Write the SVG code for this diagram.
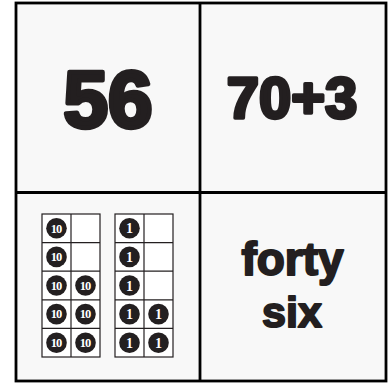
<svg xmlns="http://www.w3.org/2000/svg" width="392" height="383" viewBox="0 0 392 383">
<style>
.big{font-family:"Liberation Sans",Arial,sans-serif;font-weight:bold;fill:#231f20;stroke:#231f20;stroke-linejoin:round;text-anchor:middle}
.fr{fill:#fff;stroke:#231f20;stroke-width:1.2}
.dot{fill:#231f20}
.t10{font-family:"Liberation Serif",serif;font-weight:bold;font-size:12.5px;fill:#fff;text-anchor:middle;letter-spacing:-0.8px}
.t1{font-family:"Liberation Serif",serif;font-weight:bold;font-size:14px;fill:#fff;text-anchor:middle}
</style>
<defs>
<g id="d10"><circle r="10.3" class="dot"/><text x="-0.4" y="4.3" class="t10">10</text></g>
<g id="d1"><circle r="10.3" class="dot"/><text y="5" class="t1">1</text></g>
</defs>
<rect width="392" height="383" fill="#fff"/>
<rect x="16" y="3" width="370" height="378" fill="#f8f8f8"/>
<g id="cell-56"><text x="108" y="126.5" font-size="80" stroke-width="4.5" class="big">56</text></g>
<g id="cell-70plus3"><text x="292" y="117.5" font-size="58" stroke-width="3.5" class="big">70+3</text></g>
<g id="cell-tenframes">
<rect x="42" y="214" width="58" height="143" class="fr"/>
<line x1="71" y1="214" x2="71" y2="357" stroke="#231f20" stroke-width="1.2"/>
<line x1="42" y1="242.6" x2="100" y2="242.6" stroke="#231f20" stroke-width="1.2"/>
<line x1="42" y1="271.2" x2="100" y2="271.2" stroke="#231f20" stroke-width="1.2"/>
<line x1="42" y1="299.8" x2="100" y2="299.8" stroke="#231f20" stroke-width="1.2"/>
<line x1="42" y1="328.4" x2="100" y2="328.4" stroke="#231f20" stroke-width="1.2"/>
<rect x="115" y="214" width="58" height="143" class="fr"/>
<line x1="144" y1="214" x2="144" y2="357" stroke="#231f20" stroke-width="1.2"/>
<line x1="115" y1="242.6" x2="173" y2="242.6" stroke="#231f20" stroke-width="1.2"/>
<line x1="115" y1="271.2" x2="173" y2="271.2" stroke="#231f20" stroke-width="1.2"/>
<line x1="115" y1="299.8" x2="173" y2="299.8" stroke="#231f20" stroke-width="1.2"/>
<line x1="115" y1="328.4" x2="173" y2="328.4" stroke="#231f20" stroke-width="1.2"/>
<use href="#d10" x="56.5" y="228.3"/>
<use href="#d10" x="56.5" y="256.9"/>
<use href="#d10" x="56.5" y="285.5"/>
<use href="#d10" x="85.5" y="285.5"/>
<use href="#d10" x="56.5" y="314.1"/>
<use href="#d10" x="85.5" y="314.1"/>
<use href="#d10" x="56.5" y="342.7"/>
<use href="#d10" x="85.5" y="342.7"/>
<use href="#d1" x="129.5" y="228.3"/>
<use href="#d1" x="129.5" y="256.9"/>
<use href="#d1" x="129.5" y="285.5"/>
<use href="#d1" x="129.5" y="314.1"/>
<use href="#d1" x="158.5" y="314.1"/>
<use href="#d1" x="129.5" y="342.7"/>
<use href="#d1" x="158.5" y="342.7"/>
</g>
<g id="cell-words">
<text x="292.5" y="274.5" font-size="46" stroke-width="2" class="big">forty</text>
<text x="292" y="326.5" font-size="43" stroke-width="2" class="big">six</text>
</g>
<g id="grid" fill="none" stroke="#000" stroke-width="2.8">
<rect x="16" y="3" width="370" height="378"/>
<line x1="200" y1="3" x2="200" y2="381"/>
<line x1="16" y1="192.5" x2="386" y2="192.5"/>
</g>
</svg>
